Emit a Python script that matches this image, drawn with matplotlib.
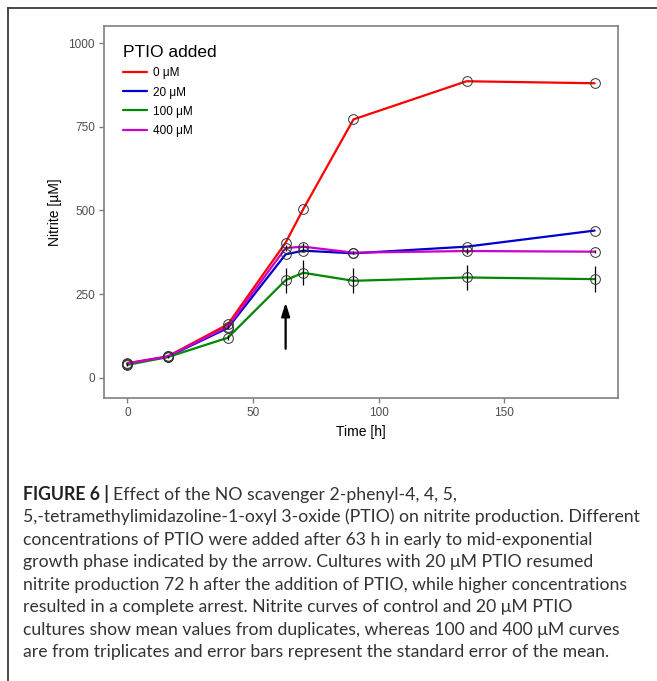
import matplotlib
matplotlib.use("Agg")
import matplotlib.pyplot as plt
from matplotlib.lines import Line2D

# ---- data ----
time_h = [0, 16, 40, 63, 70, 90, 135, 186]
series_labels = ["0 μM", "20 μM", "100 μM", "400 μM"]
series_colors = ["#ff0000", "#0000cc", "#008800", "#cc00cc"]
nitrite_0 = [44, 64, 160, 404, 504, 772, 886, 880]
nitrite_20 = [42, 63, 149, 369, 380, 372, 392, 440]
nitrite_100 = [39, 62, 120, 292, 314, 290, 300, 295]
nitrite_400 = [43, 64, 153, 388, 392, 374, 379, 377]
err_100 = [4, 3, 8, 37, 37, 37, 36, 38]
err_400 = [2, 2, 5, 10, 12, 5, 10, 4]
arrow_time = 63
arrow_from, arrow_to = 87, 225
x_ticks = [0, 50, 100, 150]
y_ticks = [0, 250, 500, 750, 1000]
legend_title = "PTIO added"
x_label = "Time [h]"
y_label = "Nitrite [µM]"
caption_bold = "FIGURE 6 | "
caption_lines = [
    "Effect of the NO scavenger 2-phenyl-4, 4, 5,",
    "5,-tetramethylimidazoline-1-oxyl 3-oxide (PTIO) on nitrite production. Different",
    "concentrations of PTIO were added after 63 h in early to mid-exponential",
    "growth phase indicated by the arrow. Cultures with 20 μM PTIO resumed",
    "nitrite production 72 h after the addition of PTIO, while higher concentrations",
    "resulted in a complete arrest. Nitrite curves of control and 20 μM PTIO",
    "cultures show mean values from duplicates, whereas 100 and 400 μM curves",
    "are from triplicates and error bars represent the standard error of the mean.",
]

plt.rcParams["font.family"] = ["Liberation Sans", "DejaVu Sans"]

W, H = 657, 681
fig = plt.figure(figsize=(W / 100, H / 100), dpi=100)
fig.patch.set_facecolor("white")

# outer frame (top and left edges)
fig.add_artist(Line2D([8 / W, 1.0], [1 - 8 / H, 1 - 8 / H], color="#3a3a3a", lw=1.3))
fig.add_artist(Line2D([8 / W, 8 / W], [0, 1 - 8 / H], color="#3a3a3a", lw=1.3))

ax = fig.add_axes([104 / W, 1 - 398 / H, (618 - 104) / W, (398 - 26) / H])

all_series = [nitrite_0, nitrite_20, nitrite_100, nitrite_400]
errs = [None, None, err_100, err_400]
for vals, err, col, lab in zip(all_series, errs, series_colors, series_labels):
    ax.plot(time_h, vals, color=col, lw=1.6, label=lab, zorder=2,
            solid_capstyle="round")
for vals, err in zip(all_series, errs):
    if err is not None:
        ax.errorbar(time_h, vals, yerr=err, fmt="none", ecolor="black",
                    elinewidth=0.9, capsize=0, zorder=3)
    ax.plot(time_h, vals, ls="none", marker="o", ms=7, mfc="none",
            mec="#333333", mew=0.7, zorder=4)

ax.annotate("", xy=(arrow_time, arrow_to), xytext=(arrow_time, arrow_from),
            arrowprops=dict(arrowstyle="-|>,head_length=0.8,head_width=0.25",
                            color="black", lw=1.6, shrinkA=0, shrinkB=0))

ax.set_xlim(-9.3, 195.3)
ax.set_ylim(-60, 1051)
ax.set_xticks(x_ticks)
ax.set_yticks(y_ticks)
for s in ax.spines.values():
    s.set_color("#808080")
    s.set_linewidth(1.2)
ax.tick_params(colors="#808080", length=3.5, width=1.0, labelcolor="#4d4d4d",
               labelsize=8.5, pad=3)
ax.set_xlabel(x_label, fontsize=10, labelpad=4)
ax.set_ylabel(y_label, fontsize=10, labelpad=5)

leg = ax.legend(title=legend_title, loc="upper left",
                bbox_to_anchor=(0.036, 0.948), frameon=False, fontsize=8.5,
                title_fontsize=12.5, handlelength=2.1, handletextpad=0.45,
                labelspacing=0.6, borderpad=0, borderaxespad=0,
                alignment="left")
for h in leg.legend_handles:
    h.set_linewidth(1.6)

# caption
x0 = 23 / W
y_base = [500, 522, 545, 567, 590, 612, 635, 657]
fig.canvas.draw()
r = fig.canvas.get_renderer()
cap_family = ["Lato", "DejaVu Sans"]
probe = fig.text(0, 0, caption_lines[1], fontsize=10, family=cap_family)
pw = probe.get_window_extent(renderer=r).width
probe.remove()
cap_size = 10 * 617 / pw
cap_kw = dict(fontsize=cap_size, color="#333333", va="baseline", ha="left",
              family=cap_family)
tb = fig.text(x0, 1 - y_base[0] / H, caption_bold, fontweight="bold",
              **dict(cap_kw, color="#222222"))
bb = tb.get_window_extent(renderer=r)
x1 = bb.x1 / fig.bbox.width
fig.text(x1, 1 - y_base[0] / H, caption_lines[0], **cap_kw)
for line, yb in zip(caption_lines[1:], y_base[1:]):
    fig.text(x0, 1 - yb / H, line, **cap_kw)

fig.savefig("out.png", dpi=100)
